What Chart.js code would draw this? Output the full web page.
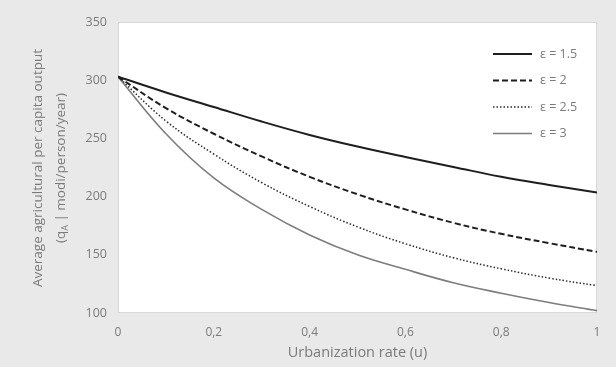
<!DOCTYPE html>
<html>
<head>
<meta charset="utf-8">
<script src="https://cdn.jsdelivr.net/npm/chart.js@4/dist/chart.umd.min.js"></script>
<style>
  html, body { margin: 0; padding: 0; background: #e9e9e9; }
  #wrap { width: 616px; height: 367px; }
</style>
</head>
<body>
<div id="wrap"><canvas id="chart" width="616" height="367"></canvas></div>
<script>
const urbanRate = [0, 0.1, 0.2, 0.3, 0.4, 0.5, 0.6, 0.7, 0.8, 0.9, 1];
const eps15 = [303, 289.5, 277, 264.5, 253, 243, 234, 225.5, 217, 210, 203.5];
const eps2  = [303, 276, 254, 234.5, 217, 202, 189, 177.5, 168, 160, 152.5];
const eps25 = [303, 265, 236.5, 212, 191.5, 174, 159.5, 147.5, 138, 130, 123.5];
const eps3  = [303, 254, 216, 189, 167, 150, 137.5, 126, 117, 109, 102];
const seriesLabels = ['ε = 1.5', 'ε = 2', 'ε = 2.5', 'ε = 3'];
const yTitle = ['Average agricultural per capita output', '(q', 'A', '| modi/person/year)'];

const textColor = '#7a7a7a';
const fontFamily = '"Open Sans", "Noto Sans", sans-serif';

function pts(vals){ return urbanRate.map((u, i) => ({ x: u, y: vals[i] })); }

const styles = [
  { color: '#1e1e1e', width: 2, dash: [] },
  { color: '#1e1e1e', width: 2, dash: [6, 3] },
  { color: '#2a2a2a', width: 1.5, dash: [1.5, 2] },
  { color: '#7d7d7d', width: 1.6, dash: [] },
];
const allSeries = [eps15, eps2, eps25, eps3];

// white plot area with a faint frame
const plotBg = {
  id: 'plotBg',
  beforeDraw(chart){
    const { ctx, chartArea: a } = chart;
    ctx.save();
    ctx.fillStyle = '#ffffff';
    ctx.fillRect(a.left, a.top, a.right - a.left, a.bottom - a.top);
    ctx.strokeStyle = '#d8d8d8';
    ctx.lineWidth = 1;
    ctx.strokeRect(a.left + 0.5, a.top + 0.5, a.right - a.left - 1, a.bottom - a.top - 1);
    ctx.restore();
  }
};

// legend in the top right corner, drawn like the original
const sideLegend = {
  id: 'sideLegend',
  afterDraw(chart){
    const { ctx } = chart;
    ctx.save();
    ctx.font = '12.5px ' + fontFamily;
    ctx.textBaseline = 'middle';
    chart.data.datasets.forEach((ds, i) => {
      const y = 54 + i * 26.5;
      ctx.beginPath();
      ctx.strokeStyle = ds.borderColor;
      ctx.lineWidth = ds.borderWidth;
      ctx.setLineDash(ds.borderDash || []);
      ctx.moveTo(493, y);
      ctx.lineTo(532, y);
      ctx.stroke();
      ctx.setLineDash([]);
      ctx.fillStyle = textColor;
      ctx.fillText(ds.label, 540, y);
    });
    ctx.restore();
  }
};

// two line rotated y title, with subscript A
const yTitlePlugin = {
  id: 'yTitle',
  afterDraw(chart){
    const { ctx } = chart;
    ctx.save();
    ctx.fillStyle = textColor;
    ctx.textBaseline = 'middle';
    ctx.rotate(-Math.PI / 2);
    const cy = -168;
    const big = '13.5px ' + fontFamily, small = '9px ' + fontFamily;
    ctx.font = big;
    ctx.textAlign = 'center';
    ctx.fillText(yTitle[0], cy, 38);
    // second line: (q_A | modi/person/year)
    const w1 = ctx.measureText(yTitle[1]).width;
    ctx.font = small; const w2 = ctx.measureText(yTitle[2]).width;
    ctx.font = big; const w3 = ctx.measureText(' ' + yTitle[3]).width;
    let x = cy - (w1 + w2 + w3) / 2;
    ctx.textAlign = 'left';
    ctx.fillText(yTitle[1], x, 61); x += w1;
    ctx.font = small; ctx.fillText(yTitle[2], x, 65); x += w2;
    ctx.font = big; ctx.fillText(' ' + yTitle[3], x, 61);
    ctx.restore();
  }
};

new Chart(document.getElementById('chart'), {
  type: 'line',
  data: {
    datasets: allSeries.map((vals, i) => ({
      label: seriesLabels[i],
      data: pts(vals),
      borderColor: styles[i].color,
      borderWidth: styles[i].width,
      borderDash: styles[i].dash,
      pointRadius: 0,
      fill: false,
      tension: 0.4,
    }))
  },
  options: {
    responsive: false,
    animation: false,
    layout: { padding: { left: 0, right: 19, top: 22, bottom: 0 } },
    plugins: { legend: { display: false }, tooltip: { enabled: false } },
    scales: {
      x: {
        type: 'linear', min: 0, max: 1,
        grid: { display: false }, border: { display: false },
        ticks: {
          stepSize: 0.2, padding: 4, color: textColor,
          font: { size: 12, family: fontFamily },
          callback: v => String(+v.toFixed(1)).replace('.', ','),
        },
        title: {
          display: true, text: 'Urbanization rate (u)', color: textColor,
          font: { size: 14.5, family: fontFamily }, padding: { top: 0, bottom: 5 },
        },
        afterFit(s){ s.height = 54; },
      },
      y: {
        min: 100, max: 350,
        grid: { display: false }, border: { display: false },
        ticks: {
          stepSize: 50, padding: 3, color: textColor,
          font: { size: 12.5, family: fontFamily },
        },
        afterFit(s){ s.width = 118; },
      }
    }
  },
  plugins: [plotBg, sideLegend, yTitlePlugin]
});
</script>
</body>
</html>
